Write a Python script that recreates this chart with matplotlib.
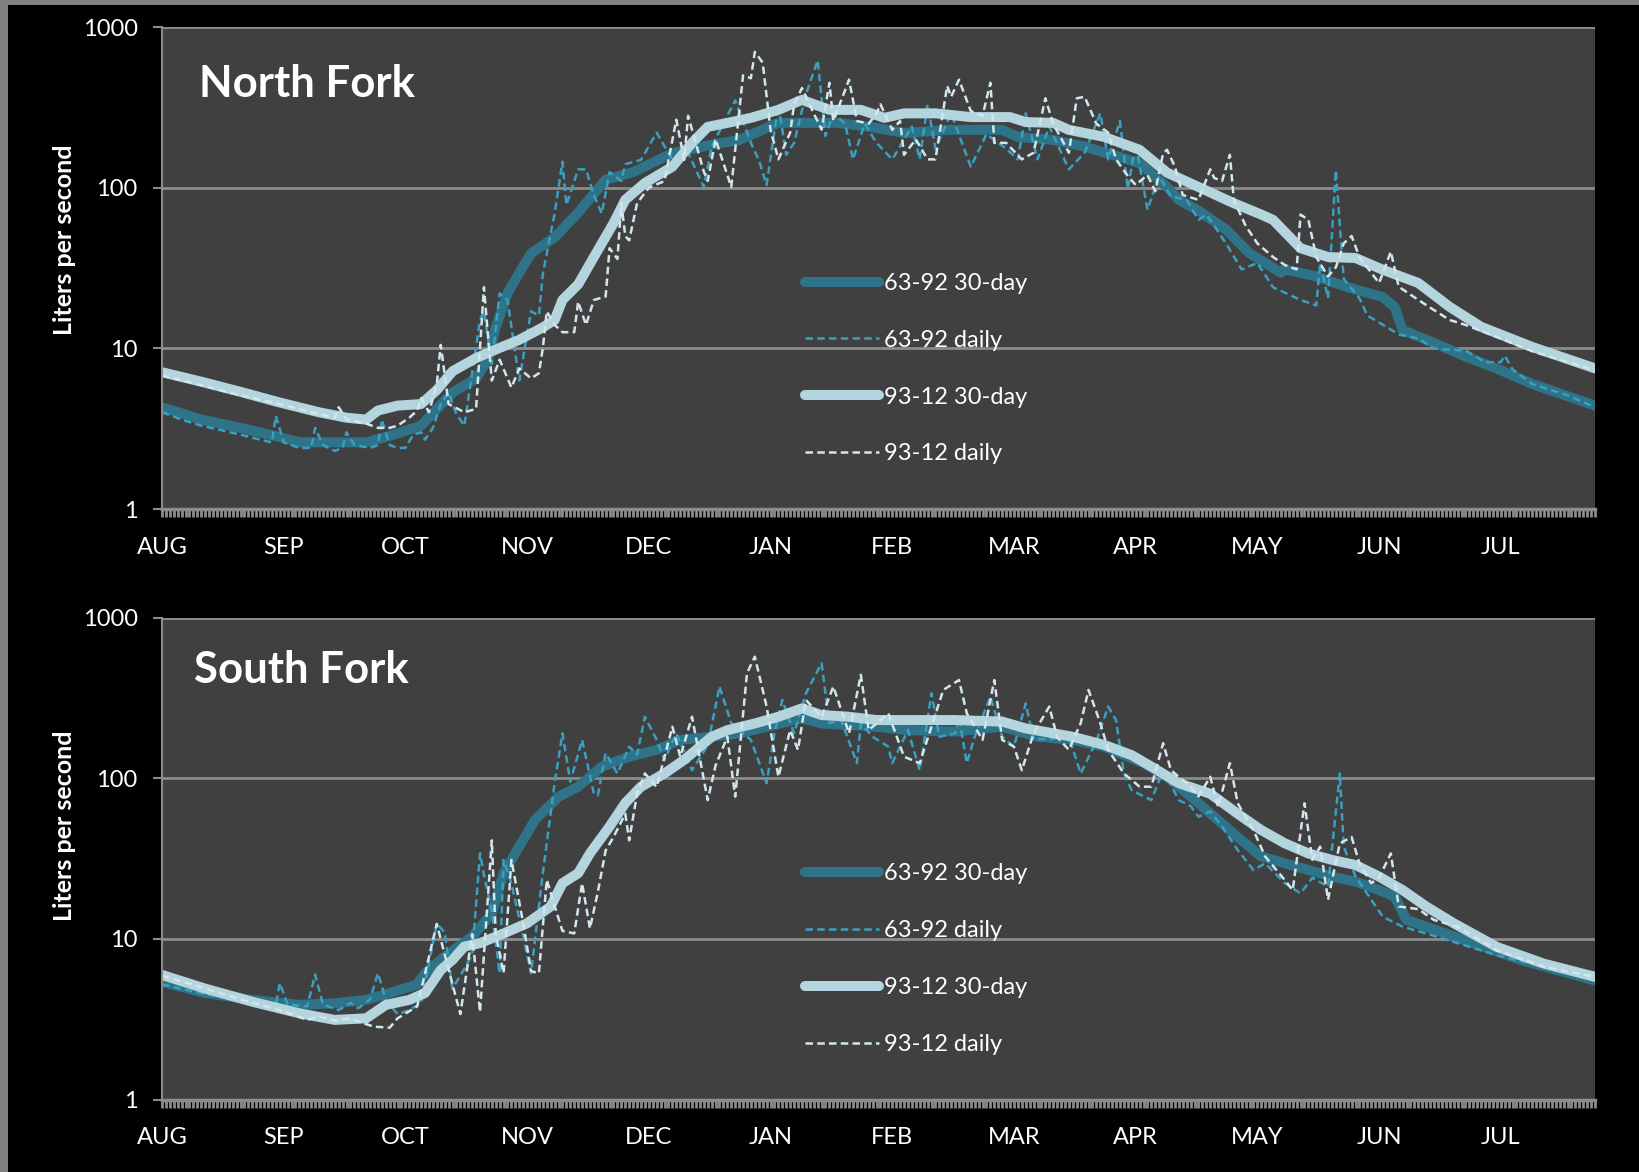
import matplotlib
matplotlib.use("Agg")
import matplotlib.pyplot as plt
from matplotlib.patches import Rectangle
from matplotlib.ticker import MultipleLocator, NullLocator

plt.rcParams['font.family'] = ['Lato', 'DejaVu Sans']

# ---------------------------------------------------------------- axis labels
MONTH_LABELS = ["AUG", "SEP", "OCT", "NOV", "DEC", "JAN", "FEB", "MAR",
                "APR", "MAY", "JUN", "JUL"]
MONTH_TICKS = [0, 31, 62, 93, 124, 155, 186, 217, 248, 279, 310, 341]
Y_TICKS = [1, 10, 100, 1000]
Y_TICK_LABELS = ["1", "10", "100", "1000"]
SERIES_LABELS = ["63-92 30-day", "63-92 daily", "93-12 30-day", "93-12 daily"]

# ---------------------------------------------------------------- North Fork
nf_old30_days = [0, 10, 20, 30, 35, 45, 52, 59, 66, 70, 74, 80, 83, 85, 88, 91,
                 94, 100, 106, 113, 120, 130, 140, 147, 157, 163, 172, 180, 189,
                 201, 214, 218, 227, 235, 244, 249, 256, 259, 264, 271, 277, 281,
                 285, 286, 294, 302, 311, 314, 316, 324, 332, 341, 349, 365]
nf_old30_vals = [4.3, 3.6, 3.2, 2.8, 2.6, 2.6, 2.6, 2.9, 3.3, 4.2, 5.3, 6.5, 8.5,
                 13.5, 22, 29.5, 39, 49, 70, 112, 125, 164, 185, 198, 253, 253,
                 253, 240, 219, 229, 229, 207, 198, 180, 155, 142, 101, 84, 72,
                 55, 39, 34, 29.5, 31, 28, 24, 20.8, 18, 13, 10.8, 8.9, 7.3, 6.0,
                 4.4]

nf_old_daily_days = [0, 5, 10, 15, 20, 25, 28, 29, 31, 35, 38, 39, 41, 44, 46, 47,
                     49, 53, 55, 56, 58, 60, 62, 64, 66, 67, 69, 71, 73, 75, 77,
                     81, 82, 84, 86, 88, 91, 94, 96, 97, 100, 102, 103, 106, 108,
                     110, 112, 114, 117, 118, 122, 126, 130, 134, 138, 140, 146,
                     150, 152, 154, 157, 159, 161, 164, 167, 169, 171, 174, 176,
                     179, 182, 186, 191, 193, 195, 197, 201, 206, 210, 215, 218,
                     220, 223, 226, 231, 235, 239, 241, 244, 246, 248, 251, 254,
                     257, 261, 264, 266, 268, 271, 275, 279, 283, 290, 294, 295,
                     297, 299, 301, 305, 307, 311, 315, 320, 324, 328, 332, 337,
                     341, 342, 344, 349, 358, 365]
nf_old_daily_vals = [4.0, 3.6, 3.3, 3.1, 2.9, 2.7, 2.6, 3.8, 2.6, 2.4, 2.4, 3.2,
                     2.5, 2.3, 2.4, 3.0, 2.5, 2.4, 2.5, 3.6, 2.5, 2.4, 2.4, 2.9,
                     3.0, 2.7, 3.2, 4.5, 5.3, 3.9, 3.3, 15, 17, 8, 22, 20, 6.3, 17,
                     16, 29, 69, 145, 78, 130, 130, 90, 69, 125, 110, 140, 149, 220,
                     149, 165, 101, 180, 350, 190, 149, 104, 330, 160, 190, 380,
                     620, 210, 290, 250, 150, 250, 190, 150, 240, 150, 330, 175,
                     290, 135, 215, 175, 150, 290, 150, 240, 130, 165, 290, 150,
                     260, 98, 190, 73, 118, 88, 84, 63, 68, 58, 45, 31, 34, 24, 20,
                     18.5, 34, 20.5, 128, 27, 20.5, 16, 14, 12.2, 11.5, 10, 9.8,
                     9.7, 8.2, 8.2, 9, 7.4, 6.0, 5.1, 4.3]

nf_new30_days = [0, 10, 20, 30, 40, 47, 52, 55, 60, 66, 70, 74, 80, 84, 91, 97,
                 100, 102, 106, 110, 115, 118, 123, 130, 135, 139, 144, 150, 157,
                 163, 170, 178, 184, 189, 197, 206, 216, 220, 227, 231, 240, 249,
                 256, 264, 273, 280, 283, 290, 297, 304, 311, 320, 328, 336, 349,
                 365]
nf_new30_vals = [7.1, 6.2, 5.36, 4.6, 4.0, 3.7, 3.6, 4.1, 4.4, 4.5, 5.5, 7.2, 8.7,
                 9.6, 11.3, 13.5, 15, 20, 25, 37, 60, 84, 107, 135, 190, 239, 253,
                 272, 305, 352, 305, 305, 272, 290, 290, 275, 275, 256, 253, 229,
                 207, 172, 124, 101, 80, 68, 63, 42, 37, 36.5, 30.8, 25.5, 18.1,
                 13.6, 10.2, 7.5]

nf_new_daily_days = [0, 10, 20, 30, 40, 44, 45, 47, 52, 55, 58, 60, 63, 65, 66,
                     68, 70, 71, 73, 77, 80, 82, 84, 86, 89, 91, 94, 96, 97, 98,
                     100, 102, 105, 106, 108, 110, 113, 114, 116, 117, 118, 119,
                     121, 124, 128, 131, 133, 134, 138, 139, 141, 145, 148, 150,
                     151, 153, 155, 157, 160, 161, 163, 166, 168, 170, 171, 175,
                     177, 180, 182, 183, 186, 188, 189, 192, 195, 197, 200, 201,
                     203, 206, 209, 211, 212, 215, 219, 222, 225, 227, 231, 233,
                     235, 238, 241, 243, 246, 248, 251, 253, 255, 256, 258, 260,
                     264, 267, 268, 270, 272, 273, 276, 279, 283, 286, 289, 290,
                     292, 294, 297, 299, 301, 303, 305, 310, 313, 315, 320, 324,
                     328, 332, 341, 349, 365]
nf_new_daily_vals = [6.8, 5.9, 5.1, 4.5, 3.9, 3.7, 4.3, 3.6, 3.4, 3.2, 3.2, 3.3,
                     3.7, 4.1, 4.9, 4.0, 6.0, 10.5, 4.5, 4.0, 4.2, 24, 6.3, 8.5,
                     5.7, 7.5, 6.5, 7.0, 10, 17, 14, 12.6, 12.6, 19.5, 14, 20, 21,
                     42, 36, 80, 50, 47, 80, 100, 110, 265, 149, 280, 126, 110, 200,
                     101, 500, 480, 700, 600, 229, 150, 220, 330, 417, 290, 230,
                     450, 260, 470, 260, 250, 290, 330, 229, 260, 160, 200, 150,
                     150, 430, 368, 470, 300, 280, 450, 190, 190, 150, 165, 360,
                     250, 165, 360, 368, 250, 220, 150, 118, 104, 120, 95, 164, 172,
                     135, 90, 84, 130, 115, 110, 160, 84, 58, 45, 37, 33, 31, 68,
                     63, 37, 28, 32, 45, 50, 37, 25.5, 40, 24.2, 20, 17.3, 15, 14,
                     11.5, 9.6, 7.3]

# ---------------------------------------------------------------- South Fork
sf_old30_days = [0, 11, 23, 35, 44, 52, 58, 65, 67, 72, 79, 84, 87, 91, 95, 101,
                 106, 112, 119, 126, 132, 140, 147, 154, 163, 168, 175, 182, 190,
                 202, 214, 223, 232, 240, 250, 256, 262, 268, 274, 280, 286, 292,
                 298, 304, 310, 314, 317, 322, 334, 346, 365]
sf_old30_vals = [5.4, 4.6, 4.17, 3.88, 3.97, 4.17, 4.6, 5.2, 6.1, 7.75, 10.3, 14.4,
                 25.6, 37.5, 55, 76.7, 88.5, 118, 136, 150, 173, 181, 190, 209,
                 236, 219, 214, 209, 199, 195, 209, 181, 173, 157, 124, 102, 77,
                 57.5, 43, 32.5, 29.5, 26.8, 24.4, 22.7, 20.1, 18.3, 13.1, 11.9,
                 9.4, 7.4, 5.5]

sf_old_daily_days = [0, 8, 16, 24, 29, 30, 32, 37, 39, 41, 45, 48, 50, 53, 55, 57,
                     60, 63, 66, 70, 72, 74, 77, 79, 81, 82, 84, 86, 87, 89, 92,
                     94, 97, 100, 102, 104, 107, 110, 111, 113, 116, 119, 121, 123,
                     126, 128, 131, 135, 139, 142, 145, 147, 150, 154, 156, 158,
                     161, 164, 168, 170, 173, 177, 178, 181, 185, 186, 190, 193,
                     196, 198, 202, 203, 205, 207, 211, 214, 217, 220, 222, 226,
                     231, 234, 238, 241, 243, 245, 247, 252, 255, 259, 262, 264,
                     267, 270, 274, 278, 281, 286, 290, 293, 297, 300, 301, 304,
                     308, 311, 316, 322, 330, 340, 352, 365]
sf_old_daily_vals = [5.2, 4.7, 4.3, 4.0, 3.9, 5.3, 3.9, 3.8, 6.0, 3.9, 3.6, 4.0,
                     3.7, 4.2, 6.1, 4.2, 3.4, 3.6, 4.0, 12.4, 11, 4.9, 6.5, 8, 34,
                     25, 15, 6.1, 31, 22, 10.4, 6.1, 25.6, 93, 190, 95, 173, 80, 78,
                     143, 107, 157, 140, 241, 173, 130, 190, 112, 160, 372, 220,
                     200, 173, 93, 190, 307, 190, 337, 519, 220, 230, 124, 219, 181,
                     157, 124, 199, 112, 337, 181, 190, 240, 124, 181, 321, 181,
                     157, 292, 175, 175, 181, 107, 170, 279, 230, 107, 84, 73, 112,
                     73, 67, 57.5, 62, 50, 35.7, 26.8, 29.5, 22.2, 19.2, 24, 21.1,
                     107, 37.5, 24.4, 17.5, 13.7, 11.9, 10.8, 9.4, 7.9, 6.7, 5.5]

sf_new30_days = [0, 11, 23, 35, 44, 52, 57, 63, 67, 71, 74, 77, 81, 87, 93, 99,
                 102, 106, 109, 114, 118, 122, 128, 133, 140, 144, 151, 157, 163,
                 168, 175, 182, 190, 202, 214, 220, 232, 240, 247, 252, 259, 267,
                 274, 280, 286, 292, 298, 304, 310, 316, 322, 329, 340, 352, 365]
sf_new30_vals = [5.96, 4.9, 4.06, 3.44, 3.13, 3.2, 3.88, 4.17, 4.6, 6.4, 7.4, 8.95,
                 9.4, 10.8, 12.5, 15.9, 22.2, 25.6, 34, 50, 70, 88.5, 107, 130,
                 181, 199, 219, 241, 272, 247, 241, 230, 230, 230, 225, 204, 181,
                 161, 139, 118, 93, 80, 60, 47.5, 39.3, 34, 31, 28.8, 24.4, 20.1,
                 15.9, 12.5, 8.9, 7.0, 5.8]

sf_new_daily_days = [0, 10, 20, 30, 37, 40, 44, 48, 51, 54, 58, 60, 65, 70, 72,
                     74, 76, 79, 81, 84, 85, 87, 89, 92, 94, 96, 98, 100, 102, 105,
                     107, 109, 111, 113, 115, 118, 119, 121, 123, 126, 128, 130,
                     132, 135, 139, 141, 144, 146, 149, 151, 154, 157, 160, 162,
                     164, 168, 171, 175, 178, 180, 185, 189, 193, 199, 203, 205,
                     209, 212, 214, 217, 219, 222, 226, 228, 231, 234, 236, 239,
                     241, 245, 249, 252, 255, 257, 262, 264, 267, 269, 272, 274,
                     278, 281, 286, 288, 291, 293, 295, 297, 300, 303, 305, 308,
                     310, 313, 315, 320, 324, 330, 340, 352, 365]
sf_new_daily_vals = [5.9, 5.0, 4.2, 3.6, 3.13, 3.3, 3.1, 3.2, 3.0, 2.84, 2.8, 3.2,
                     3.8, 12.4, 8, 5.2, 3.4, 10.7, 3.5, 41, 10.8, 6.1, 31, 12.5, 6.3,
                     6.1, 23.3, 16, 11.2, 10.8, 22.2, 11.6, 19.5, 35.5, 43, 60, 41,
                     80, 107, 88, 136, 209, 136, 241, 73, 120, 181, 76.7, 450, 570,
                     279, 102, 199, 150, 307, 240, 372, 190, 440, 199, 253, 136,
                     124, 354, 408, 253, 173, 408, 173, 157, 112, 190, 279, 180,
                     150, 220, 354, 220, 150, 107, 88.5, 88.5, 165, 112, 88.5, 77,
                     102, 66.5, 124, 69.7, 47.5, 32.5, 23.2, 20.1, 69.7, 31, 37.5,
                     17.5, 39.3, 43, 29.5, 22.2, 24, 34, 15.9, 15.3, 13.1, 11.9,
                     8.5, 6.7, 5.8]

# ---------------------------------------------------------------- styling
BG_FIG = "black"
BG_AX = "#404040"
AXIS_GRAY = "#8c8c8c"
C_OLD30 = "#2e7387"
C_OLD_DAILY = "#3aa0c0"
C_NEW30 = "#b4d4de"
C_NEW_DAILY = "#d2e6ec"
DASH = (0, (3.0, 1.7))

W, H = 1640, 1172
fig = plt.figure(figsize=(W / 100, H / 100), dpi=100, facecolor=BG_FIG)

# gray frame strips on the top and left edges
fig.patches.append(Rectangle((0, 1 - 5 / H), 1, 5 / H, transform=fig.transFigure,
                             facecolor="#808080", edgecolor="none", zorder=0))
fig.patches.append(Rectangle((0, 0), 8 / W, 1, transform=fig.transFigure,
                             facecolor="#808080", edgecolor="none", zorder=0))

panels = [
    dict(title="North Fork", top=27, title_xy=(0.026, 0.882), ylabel_y=240,
         series=[(nf_old30_days, nf_old30_vals), (nf_old_daily_days, nf_old_daily_vals),
                 (nf_new30_days, nf_new30_vals), (nf_new_daily_days, nf_new_daily_vals)]),
    dict(title="South Fork", top=617.5, title_xy=(0.022, 0.891), ylabel_y=826,
         series=[(sf_old30_days, sf_old30_vals), (sf_old_daily_days, sf_old_daily_vals),
                 (sf_new30_days, sf_new30_vals), (sf_new_daily_days, sf_new_daily_vals)]),
]

styles = [
    dict(color=C_OLD30, lw=7.2, solid_capstyle="round", solid_joinstyle="round"),
    dict(color=C_OLD_DAILY, lw=1.8, linestyle=DASH),
    dict(color=C_NEW30, lw=7.2, solid_capstyle="round", solid_joinstyle="round"),
    dict(color=C_NEW_DAILY, lw=1.8, linestyle=DASH),
]

ax_left, ax_right, ax_h = 162, 1595, 482

for p in panels:
    ax = fig.add_axes([ax_left / W, 1 - (p["top"] + ax_h) / H,
                       (ax_right - ax_left) / W, ax_h / H])
    ax.set_facecolor(BG_AX)
    ax.set_yscale("log")
    ax.set_ylim(1, 1000)
    ax.set_xlim(0, 365)

    for (days, vals), st, lab in zip(p["series"], styles, SERIES_LABELS):
        ax.plot(days, vals, label=lab, **st)

    ax.set_yticks(Y_TICKS, labels=Y_TICK_LABELS)
    ax.yaxis.set_minor_locator(NullLocator())
    ax.set_xticks(MONTH_TICKS, labels=MONTH_LABELS)
    ax.xaxis.set_minor_locator(MultipleLocator(1))

    ax.grid(axis="y", which="major", color=AXIS_GRAY, lw=2)
    ax.set_axisbelow(True)
    for s in ("top", "right"):
        ax.spines[s].set_visible(False)
    ax.spines["left"].set_color(AXIS_GRAY)
    ax.spines["left"].set_linewidth(1.5)
    ax.spines["bottom"].set_color(AXIS_GRAY)
    ax.spines["bottom"].set_linewidth(2.5)

    ax.tick_params(axis="x", which="both", direction="out", length=6, width=2.0,
                   color=AXIS_GRAY, labelcolor="white", labelsize=17, pad=14)
    ax.tick_params(axis="y", which="major", direction="out", length=6.5, width=1.5,
                   color=AXIS_GRAY, labelcolor="white", labelsize=17, pad=11)

    ax.text(p["title_xy"][0], p["title_xy"][1], p["title"], transform=ax.transAxes,
            fontsize=31.5, fontweight="bold", color="white", ha="left", va="center")

    ax.legend(loc="upper left", bbox_to_anchor=(0.449, 0.490), frameon=False,
              fontsize=17, handlelength=3.13, handletextpad=0.2,
              labelspacing=1.52, borderpad=0, borderaxespad=0,
              labelcolor="white")

    fig.text(65 / W, 1 - p["ylabel_y"] / H, "Liters per second", rotation=90,
             ha="center", va="center", fontsize=18, fontweight="bold",
             color="white")

fig.savefig("out.png", dpi=100, facecolor=BG_FIG)
